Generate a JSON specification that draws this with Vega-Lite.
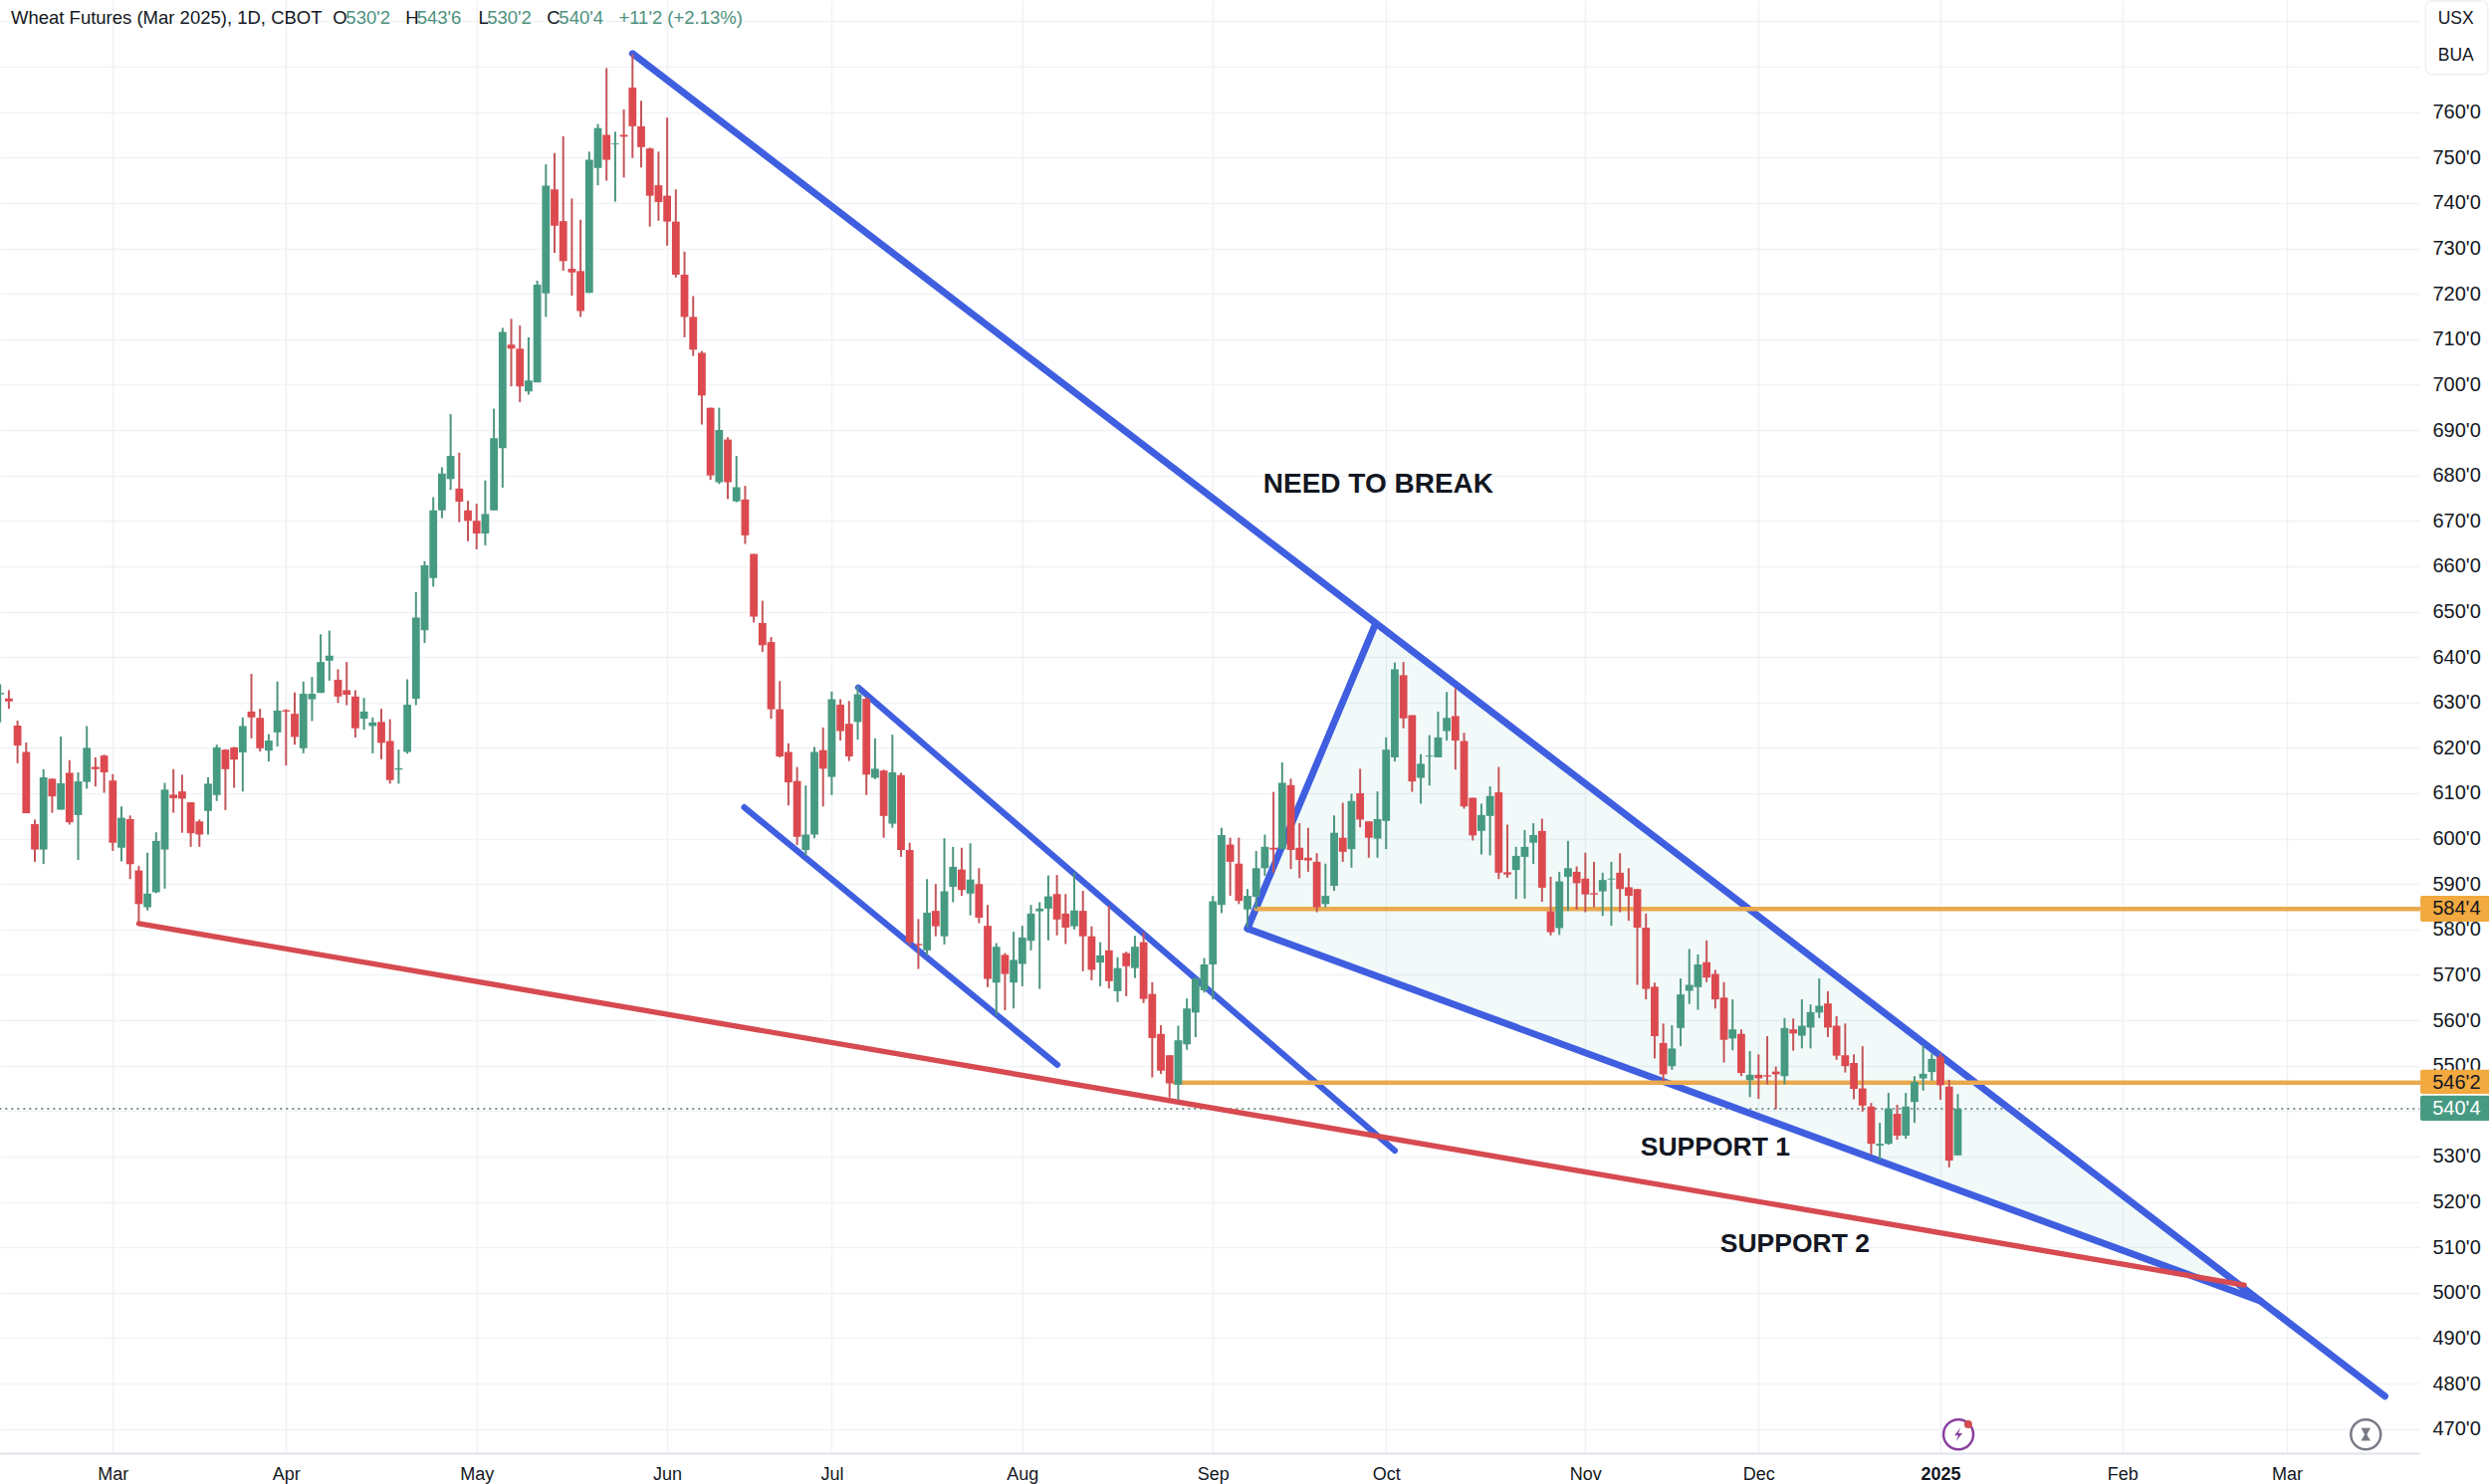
{
  "$schema": "https://vega.github.io/schema/vega-lite/v6.json",
  "width": 2430,
  "height": 1460,
  "autosize": "none",
  "padding": {"left": 0, "top": 0, "right": 70, "bottom": 31},
  "background": "white",
  "config": {"view": {"stroke": null}, "font": "Liberation Sans"},
  "resolve": {"scale": {"color": "independent"}},
  "datasets": {
    "candles": [
      {"i":0,"o":631.8,"h":634.0,"l":625.6,"c":632.1},{"i":1,"o":630.9,"h":632.7,"l":628.6,"c":630.2},{"i":2,"o":624.9,"h":626.0,"l":616.6,"c":620.5},{"i":3,"o":619.1,"h":621.2,"l":605.6,"c":605.6},{"i":4,"o":603.2,"h":604.2,"l":594.9,"c":597.6},
      {"i":5,"o":597.6,"h":615.3,"l":594.4,"c":613.5},{"i":6,"o":613.2,"h":613.2,"l":605.7,"c":609.3},{"i":7,"o":606.4,"h":622.5,"l":606.4,"c":612.2},{"i":8,"o":614.5,"h":617.3,"l":603.1,"c":603.6},{"i":9,"o":605.2,"h":614.6,"l":595.3,"c":612.6},
      {"i":10,"o":612.5,"h":624.8,"l":611.0,"c":620.0},{"i":11,"o":615.8,"h":617.9,"l":611.5,"c":615.3},{"i":12,"o":618.3,"h":618.5,"l":610.1,"c":614.6},{"i":13,"o":612.8,"h":614.2,"l":597.3,"c":599.1},{"i":14,"o":598.0,"h":607.1,"l":595.0,"c":604.6},
      {"i":15,"o":604.3,"h":605.1,"l":591.1,"c":594.4},{"i":16,"o":593.0,"h":594.0,"l":581.5,"c":585.6},{"i":17,"o":584.9,"h":596.9,"l":584.2,"c":587.9},{"i":18,"o":588.2,"h":601.4,"l":588.0,"c":599.5},{"i":19,"o":597.6,"h":612.3,"l":589.0,"c":610.8},
      {"i":20,"o":609.7,"h":615.3,"l":605.7,"c":608.9},{"i":21,"o":610.4,"h":614.1,"l":601.3,"c":608.8},{"i":22,"o":608.0,"h":608.0,"l":598.2,"c":601.2},{"i":23,"o":603.8,"h":604.2,"l":598.2,"c":600.9},{"i":24,"o":606.1,"h":613.5,"l":600.9,"c":612.1},
      {"i":25,"o":609.6,"h":620.7,"l":608.3,"c":620.1},{"i":26,"o":619.6,"h":619.7,"l":606.3,"c":615.3},{"i":27,"o":620.1,"h":620.2,"l":611.2,"c":617.4},{"i":28,"o":619.0,"h":626.7,"l":610.4,"c":624.8},{"i":29,"o":628.0,"h":636.3,"l":622.1,"c":626.7},
      {"i":30,"o":626.6,"h":628.6,"l":619.2,"c":619.9},{"i":31,"o":619.4,"h":623.0,"l":617.0,"c":621.6},{"i":32,"o":623.4,"h":634.6,"l":620.3,"c":628.2},{"i":33,"o":628.3,"h":628.5,"l":616.1,"c":628.0},{"i":34,"o":627.5,"h":632.2,"l":620.7,"c":622.4},
      {"i":35,"o":619.9,"h":634.6,"l":618.8,"c":631.9},{"i":36,"o":630.7,"h":635.6,"l":625.9,"c":631.9},{"i":37,"o":632.1,"h":645.0,"l":632.1,"c":638.9},{"i":38,"o":639.2,"h":645.8,"l":634.8,"c":640.3},{"i":39,"o":635.0,"h":637.3,"l":629.9,"c":631.3},
      {"i":40,"o":632.7,"h":638.9,"l":629.4,"c":631.7},{"i":41,"o":631.3,"h":632.7,"l":622.3,"c":624.3},{"i":42,"o":626.4,"h":631.0,"l":624.0,"c":628.0},{"i":43,"o":624.8,"h":626.7,"l":618.8,"c":625.6},{"i":44,"o":625.7,"h":628.6,"l":617.5,"c":621.1},
      {"i":45,"o":621.5,"h":626.3,"l":612.1,"c":612.9},{"i":46,"o":615.2,"h":619.6,"l":612.1,"c":615.5},{"i":47,"o":619.1,"h":635.1,"l":618.7,"c":629.5},{"i":48,"o":630.8,"h":654.3,"l":629.4,"c":648.7},{"i":49,"o":645.9,"h":661.1,"l":643.1,"c":660.2},
      {"i":50,"o":657.4,"h":675.2,"l":655.5,"c":672.3},{"i":51,"o":672.3,"h":681.8,"l":670.6,"c":680.4},{"i":52,"o":679.2,"h":693.5,"l":676.8,"c":684.3},{"i":53,"o":677.1,"h":685.0,"l":669.7,"c":674.2},{"i":54,"o":672.3,"h":674.4,"l":665.5,"c":670.0},
      {"i":55,"o":670.0,"h":673.8,"l":663.7,"c":667.2},{"i":56,"o":667.2,"h":678.9,"l":664.6,"c":671.5},{"i":57,"o":672.3,"h":694.7,"l":672.3,"c":688.2},{"i":58,"o":686.0,"h":712.5,"l":677.3,"c":711.6},{"i":59,"o":708.8,"h":714.5,"l":699.6,"c":707.9},
      {"i":60,"o":707.9,"h":713.0,"l":696.1,"c":699.6},{"i":61,"o":698.5,"h":710.4,"l":697.8,"c":700.9},{"i":62,"o":700.5,"h":722.9,"l":700.5,"c":722.0},{"i":63,"o":720.1,"h":748.5,"l":714.9,"c":743.8},{"i":64,"o":743.0,"h":751.0,"l":729.0,"c":735.0},
      {"i":65,"o":736.0,"h":754.7,"l":725.1,"c":727.2},{"i":66,"o":725.5,"h":741.0,"l":719.6,"c":724.7},{"i":67,"o":725.0,"h":736.3,"l":714.9,"c":716.2},{"i":68,"o":720.2,"h":751.3,"l":720.2,"c":749.5},{"i":69,"o":747.7,"h":757.4,"l":743.9,"c":756.5},
      {"i":70,"o":755.0,"h":769.7,"l":744.9,"c":749.5},{"i":71,"o":752.9,"h":755.7,"l":740.3,"c":753.1},{"i":72,"o":755.0,"h":760.6,"l":745.6,"c":754.6},{"i":73,"o":765.4,"h":772.8,"l":749.9,"c":756.9},{"i":74,"o":756.9,"h":762.5,"l":747.8,"c":752.3},
      {"i":75,"o":752.0,"h":752.2,"l":734.8,"c":741.6},{"i":76,"o":743.9,"h":751.3,"l":736.1,"c":740.2},{"i":77,"o":741.6,"h":758.8,"l":730.6,"c":735.9},{"i":78,"o":735.9,"h":743.0,"l":723.6,"c":724.2},{"i":79,"o":724.2,"h":729.3,"l":710.4,"c":714.9},
      {"i":80,"o":714.9,"h":719.5,"l":706.3,"c":707.7},{"i":81,"o":707.0,"h":707.4,"l":691.2,"c":697.6},{"i":82,"o":694.9,"h":694.9,"l":679.0,"c":680.0},{"i":83,"o":678.5,"h":694.9,"l":678.1,"c":690.0},{"i":84,"o":687.9,"h":688.4,"l":674.8,"c":678.5},
      {"i":85,"o":674.3,"h":684.3,"l":674.1,"c":677.4},{"i":86,"o":674.7,"h":677.7,"l":664.9,"c":666.8},{"i":87,"o":662.7,"h":662.7,"l":647.6,"c":648.9},{"i":88,"o":647.5,"h":652.4,"l":641.1,"c":642.6},{"i":89,"o":643.3,"h":644.4,"l":626.4,"c":628.5},
      {"i":90,"o":628.5,"h":634.7,"l":617.9,"c":618.1},{"i":91,"o":619.1,"h":621.0,"l":607.3,"c":612.4},{"i":92,"o":612.7,"h":615.8,"l":598.6,"c":600.4},{"i":93,"o":597.5,"h":611.7,"l":596.2,"c":600.9},{"i":94,"o":600.9,"h":620.2,"l":600.1,"c":619.1},
      {"i":95,"o":619.5,"h":624.5,"l":607.1,"c":615.4},{"i":96,"o":613.6,"h":632.4,"l":609.6,"c":630.7},{"i":97,"o":629.5,"h":630.7,"l":621.6,"c":623.7},{"i":98,"o":625.3,"h":630.3,"l":617.1,"c":618.1},{"i":99,"o":625.7,"h":633.6,"l":621.8,"c":631.8},
      {"i":100,"o":630.8,"h":631.3,"l":609.6,"c":614.1},{"i":101,"o":613.4,"h":622.1,"l":613.1,"c":615.4},{"i":102,"o":615.0,"h":615.2,"l":600.2,"c":605.0},{"i":103,"o":603.3,"h":622.9,"l":602.4,"c":614.6},{"i":104,"o":614.0,"h":614.5,"l":596.0,"c":597.5},
      {"i":105,"o":597.5,"h":599.1,"l":576.5,"c":577.2},{"i":106,"o":576.8,"h":582.3,"l":571.3,"c":576.5},{"i":107,"o":575.4,"h":591.1,"l":574.3,"c":583.7},{"i":108,"o":584.1,"h":590.0,"l":578.5,"c":580.7},{"i":109,"o":578.5,"h":600.1,"l":576.7,"c":588.4},
      {"i":110,"o":589.4,"h":598.2,"l":586.0,"c":593.8},{"i":111,"o":593.2,"h":598.0,"l":587.4,"c":588.7},{"i":112,"o":587.9,"h":599.0,"l":583.1,"c":591.0},{"i":113,"o":590.0,"h":593.5,"l":581.4,"c":582.6},{"i":114,"o":580.8,"h":585.4,"l":567.3,"c":569.1},
      {"i":115,"o":568.3,"h":577.0,"l":561.1,"c":576.2},{"i":116,"o":574.4,"h":574.8,"l":562.2,"c":570.2},{"i":117,"o":568.3,"h":579.5,"l":562.6,"c":573.3},{"i":118,"o":572.4,"h":580.8,"l":567.5,"c":578.2},{"i":119,"o":577.5,"h":585.4,"l":575.4,"c":583.5},
      {"i":120,"o":584.0,"h":586.0,"l":566.9,"c":584.6},{"i":121,"o":584.6,"h":591.9,"l":577.6,"c":587.3},{"i":122,"o":587.8,"h":592.0,"l":578.7,"c":582.2},{"i":123,"o":583.5,"h":587.8,"l":576.8,"c":580.4},{"i":124,"o":580.7,"h":592.5,"l":580.0,"c":584.2},
      {"i":125,"o":584.1,"h":588.5,"l":570.8,"c":578.5},{"i":126,"o":578.5,"h":580.7,"l":568.8,"c":571.1},{"i":127,"o":572.7,"h":577.2,"l":567.5,"c":574.3},{"i":128,"o":575.4,"h":585.2,"l":567.0,"c":568.6},{"i":129,"o":566.4,"h":573.9,"l":564.0,"c":571.5},
      {"i":130,"o":574.8,"h":575.1,"l":565.3,"c":571.9},{"i":131,"o":571.5,"h":578.6,"l":569.3,"c":576.2},{"i":132,"o":577.2,"h":579.4,"l":563.8,"c":564.7},{"i":133,"o":565.8,"h":568.4,"l":547.4,"c":556.1},{"i":134,"o":557.0,"h":558.9,"l":548.2,"c":548.9},
      {"i":135,"o":552.3,"h":552.3,"l":543.0,"c":546.1},{"i":136,"o":545.8,"h":558.8,"l":542.5,"c":555.6},{"i":137,"o":554.7,"h":564.8,"l":553.5,"c":562.6},{"i":138,"o":561.7,"h":569.5,"l":556.3,"c":569.2},{"i":139,"o":566.6,"h":573.7,"l":566.1,"c":572.3},
      {"i":140,"o":572.3,"h":587.4,"l":564.6,"c":586.2},{"i":141,"o":585.4,"h":602.4,"l":583.6,"c":600.8},{"i":142,"o":598.7,"h":600.2,"l":587.4,"c":594.9},{"i":143,"o":594.5,"h":600.2,"l":585.6,"c":586.3},{"i":144,"o":584.4,"h":588.9,"l":580.5,"c":587.4},
      {"i":145,"o":587.2,"h":597.3,"l":584.5,"c":593.5},{"i":146,"o":593.5,"h":600.9,"l":591.8,"c":598.2},{"i":147,"o":598.0,"h":610.3,"l":592.5,"c":597.6},{"i":148,"o":597.7,"h":616.8,"l":597.7,"c":612.3},{"i":149,"o":611.8,"h":613.2,"l":593.3,"c":597.5},
      {"i":150,"o":598.0,"h":603.4,"l":591.3,"c":595.3},{"i":151,"o":595.8,"h":602.4,"l":592.7,"c":595.2},{"i":152,"o":594.9,"h":596.8,"l":583.8,"c":584.9},{"i":153,"o":585.6,"h":594.5,"l":584.9,"c":587.4},{"i":154,"o":589.6,"h":605.1,"l":588.5,"c":601.3},
      {"i":155,"o":600.2,"h":607.9,"l":594.9,"c":597.1},{"i":156,"o":597.7,"h":609.9,"l":593.6,"c":608.3},{"i":157,"o":610.0,"h":615.4,"l":602.5,"c":604.2},{"i":158,"o":603.8,"h":603.8,"l":595.8,"c":600.2},{"i":159,"o":600.0,"h":610.4,"l":595.8,"c":604.3},
      {"i":160,"o":603.9,"h":622.3,"l":597.7,"c":619.6},{"i":161,"o":617.9,"h":638.8,"l":617.0,"c":637.3},{"i":162,"o":636.0,"h":638.9,"l":624.3,"c":626.5},{"i":163,"o":627.2,"h":627.2,"l":610.3,"c":612.6},{"i":164,"o":613.4,"h":618.6,"l":607.7,"c":616.5},
      {"i":165,"o":618.1,"h":622.8,"l":611.7,"c":618.3},{"i":166,"o":617.9,"h":628.0,"l":617.9,"c":622.3},{"i":167,"o":623.7,"h":632.3,"l":621.6,"c":626.6},{"i":168,"o":627.0,"h":633.1,"l":615.2,"c":621.6},{"i":169,"o":621.5,"h":623.3,"l":606.6,"c":607.1},
      {"i":170,"o":609.0,"h":609.0,"l":599.6,"c":600.7},{"i":171,"o":601.7,"h":607.7,"l":596.5,"c":605.2},{"i":172,"o":605.0,"h":611.5,"l":596.3,"c":609.4},{"i":173,"o":610.2,"h":615.8,"l":591.1,"c":592.5},{"i":174,"o":592.6,"h":603.1,"l":591.4,"c":592.1},
      {"i":175,"o":593.1,"h":598.2,"l":586.7,"c":596.2},{"i":176,"o":596.0,"h":601.9,"l":586.8,"c":598.2},{"i":177,"o":599.1,"h":603.4,"l":594.4,"c":600.8},{"i":178,"o":601.7,"h":604.4,"l":586.1,"c":589.2},{"i":179,"o":584.0,"h":591.6,"l":578.7,"c":579.4},
      {"i":180,"o":580.3,"h":592.7,"l":578.8,"c":590.6},{"i":181,"o":591.6,"h":599.5,"l":584.1,"c":593.5},{"i":182,"o":592.7,"h":593.9,"l":584.4,"c":590.2},{"i":183,"o":591.2,"h":596.9,"l":583.8,"c":587.7},{"i":184,"o":588.0,"h":594.9,"l":584.9,"c":587.7},
      {"i":185,"o":588.4,"h":592.5,"l":583.0,"c":590.9},{"i":186,"o":591.0,"h":594.9,"l":580.8,"c":591.2},{"i":187,"o":592.5,"h":596.8,"l":583.8,"c":588.9},{"i":188,"o":589.3,"h":593.5,"l":581.9,"c":587.4},{"i":189,"o":588.9,"h":588.9,"l":567.8,"c":580.4},
      {"i":190,"o":580.4,"h":583.5,"l":564.6,"c":566.9},{"i":191,"o":567.4,"h":568.3,"l":551.6,"c":556.5},{"i":192,"o":555.0,"h":559.3,"l":546.6,"c":548.1},{"i":193,"o":549.9,"h":558.9,"l":549.1,"c":553.8},{"i":194,"o":558.3,"h":569.2,"l":554.3,"c":565.7},
      {"i":195,"o":566.5,"h":575.7,"l":563.6,"c":567.8},{"i":196,"o":567.3,"h":574.5,"l":562.3,"c":572.3},{"i":197,"o":572.8,"h":577.6,"l":568.4,"c":569.4},{"i":198,"o":570.2,"h":571.1,"l":562.6,"c":564.6},{"i":199,"o":565.0,"h":568.4,"l":550.7,"c":555.7},
      {"i":200,"o":556.0,"h":564.6,"l":553.4,"c":558.0},{"i":201,"o":557.0,"h":558.0,"l":547.7,"c":548.4},{"i":202,"o":546.8,"h":553.2,"l":543.1,"c":548.0},{"i":203,"o":548.0,"h":552.5,"l":542.7,"c":547.2},{"i":204,"o":547.9,"h":556.5,"l":545.9,"c":547.6},
      {"i":205,"o":548.7,"h":549.8,"l":540.4,"c":548.1},{"i":206,"o":547.7,"h":560.5,"l":545.9,"c":558.3},{"i":207,"o":558.0,"h":560.4,"l":553.3,"c":557.1},{"i":208,"o":556.6,"h":564.6,"l":553.8,"c":558.8},{"i":209,"o":558.4,"h":563.5,"l":553.8,"c":561.8},
      {"i":210,"o":561.7,"h":569.2,"l":560.5,"c":563.2},{"i":211,"o":563.7,"h":566.4,"l":556.3,"c":558.4},{"i":212,"o":558.8,"h":560.9,"l":551.3,"c":552.2},{"i":213,"o":552.3,"h":559.3,"l":548.5,"c":549.9},{"i":214,"o":550.6,"h":552.5,"l":542.6,"c":544.9},
      {"i":215,"o":545.0,"h":554.3,"l":539.9,"c":541.2},{"i":216,"o":541.0,"h":541.8,"l":530.4,"c":532.8},{"i":217,"o":532.4,"h":537.4,"l":529.3,"c":532.8},{"i":218,"o":532.8,"h":544.0,"l":532.6,"c":540.6},{"i":219,"o":539.4,"h":541.4,"l":533.7,"c":534.6},
      {"i":220,"o":534.6,"h":544.0,"l":533.9,"c":541.0},{"i":221,"o":542.0,"h":547.7,"l":537.4,"c":546.4},{"i":222,"o":547.2,"h":554.5,"l":544.5,"c":548.2},{"i":223,"o":548.6,"h":552.7,"l":546.7,"c":551.5},{"i":224,"o":552.0,"h":552.7,"l":542.5,"c":545.7},
      {"i":225,"o":545.4,"h":546.9,"l":527.6,"c":529.1},{"i":226,"o":530.25,"h":543.75,"l":530.25,"c":540.5}
    ],
    "lines": [
      {"line":"top","kind":"blue","i":73,"p":772.9},{"line":"top","kind":"blue","i":275.3,"p":477.2},
      {"line":"wedge left","kind":"blue","i":158.8,"p":647.4},{"line":"wedge left","kind":"blue","i":144,"p":580.2},
      {"line":"wedge bottom","kind":"blue","i":144,"p":580.2},{"line":"wedge bottom","kind":"blue","i":260.9,"p":498.2},
      {"line":"channel top","kind":"channel","i":99.05,"p":633.3},{"line":"channel top","kind":"channel","i":161,"p":531.3},
      {"line":"channel bottom","kind":"channel","i":85.9,"p":606.9},{"line":"channel bottom","kind":"channel","i":122.05,"p":550.2},
      {"line":"support","kind":"red","i":16,"p":581.3},{"line":"support","kind":"red","i":259.06,"p":501.7},
      {"line":"level 584","kind":"orange","i":145,"p":584.5},{"line":"level 584","kind":"orange","i":279.3,"p":584.5},
      {"line":"level 546","kind":"orange","i":135.6,"p":546.25},{"line":"level 546","kind":"orange","i":279.3,"p":546.25}
    ]
  },
  "encoding": {
    "x": {
      "field": "i",
      "type": "quantitative",
      "scale": {"domain": [-0.023, 279.28], "nice": false, "zero": false, "padding": 0},
      "axis": {
        "title": null,
        "orient": "bottom",
        "values": [13, 33, 55, 77, 96, 118, 140, 160, 183, 203, 224, 245, 264],
        "labelExpr": "['Mar','Apr','May','Jun','Jul','Aug','Sep','Oct','Nov','Dec','2025','Feb','Mar'][indexof([13,33,55,77,96,118,140,160,183,203,224,245,264],datum.value)]",
        "labelFontWeight": {"condition": {"test": "datum.value == 224", "value": "bold"}, "value": "normal"},
        "labelFont": "Liberation Sans",
        "labelFontSize": 18,
        "labelColor": "#131722",
        "labelPadding": 12,
        "labelOverlap": false,
        "labelBound": false,
        "labelFlush": false,
        "ticks": false,
        "grid": true,
        "gridColor": "#f0f2f6",
        "gridWidth": 1.5,
        "domainColor": "#e0e3eb",
        "domainWidth": 2
      }
    },
    "y": {
      "field": "p",
      "type": "quantitative",
      "scale": {"domain": [464.67, 784.7], "nice": false, "zero": false},
      "axis": {
        "title": null,
        "orient": "right",
        "values": [470,480,490,500,510,520,530,540,550,560,570,580,590,600,610,620,630,640,650,660,670,680,690,700,710,720,730,740,750,760,770,780],
        "labelExpr": "datum.value <= 760 && datum.value != 540 ? datum.value + \"'0\" : ''",
        "labelFont": "Liberation Sans",
        "labelFontSize": 20,
        "labelColor": "#131722",
        "labelPadding": 13,
        "labelOverlap": false,
        "labelBound": false,
        "ticks": false,
        "domain": false,
        "grid": true,
        "gridColor": "#f0f2f6",
        "gridWidth": 1.5
      }
    }
  },
  "layer": [
    {
      "data": {"values": [
        {"i": 144, "p": 580.2, "bottom": 580.2},
        {"i": 158.8, "p": 647.4, "bottom": 569.8},
        {"i": 260.9, "p": 498.2, "bottom": 498.2}
      ]},
      "mark": {"type": "area", "color": "#26a69a", "opacity": 0.06},
      "encoding": {"y2": {"field": "bottom"}}
    },
    {
      "data": {"values": [{"i": -0.1, "p": 540.5}, {"i": 279.3, "p": 540.5}]},
      "mark": {"type": "line", "color": "#4f6f68", "strokeWidth": 1.5, "strokeDash": [2, 4]},
      "encoding": {}
    },
    {
      "data": {"name": "lines"},
      "mark": {"type": "line", "strokeCap": "round"},
      "encoding": {
        "detail": {"field": "line"},
        "color": {
          "field": "kind",
          "scale": {"domain": ["blue", "channel", "red", "orange"], "range": ["#3f5fe0", "#3f5fe0", "#d64a50", "#e9a94f"]},
          "legend": null
        },
        "strokeWidth": {
          "field": "kind",
          "scale": {"domain": ["blue", "channel", "red", "orange"], "range": [7, 4.5, 7, 4.5]},
          "legend": null
        }
      }
    },
    {
      "data": {"name": "candles"},
      "mark": {"type": "rule", "strokeWidth": 2},
      "encoding": {
        "y": {"field": "l", "type": "quantitative", "title": null},
        "y2": {"field": "h"},
        "color": {"condition": {"test": "datum.c >= datum.o", "value": "#4d957f"}, "value": "#c4555a"}
      }
    },
    {
      "data": {"name": "candles"},
      "mark": {"type": "bar", "size": 7.8},
      "encoding": {
        "y": {"field": "o", "type": "quantitative", "title": null},
        "y2": {"field": "c"},
        "color": {"condition": {"test": "datum.c >= datum.o", "value": "#479a82"}, "value": "#dc4a50"}
      }
    },
    {
      "data": {"values": [
        {"i": 279.4, "i2": 287.5, "p": 587.4, "p2": 581.7, "tag": "level"},
        {"i": 279.4, "i2": 287.5, "p": 549.1, "p2": 543.8, "tag": "level"},
        {"i": 279.4, "i2": 287.5, "p": 543.4, "p2": 537.9, "tag": "last"}
      ]},
      "mark": {"type": "rect", "cornerRadius": 2},
      "encoding": {
        "x2": {"field": "i2"},
        "y2": {"field": "p2"},
        "color": {"field": "tag", "scale": {"domain": ["level", "last"], "range": ["#f2a93f", "#479a82"]}, "legend": null}
      }
    },
    {
      "data": {"values": [
        {"i": 280.8, "p": 584.5, "label": "584'4", "tag": "level"},
        {"i": 280.8, "p": 546.25, "label": "546'2", "tag": "level"},
        {"i": 280.8, "p": 540.5, "label": "540'4", "tag": "last"}
      ]},
      "mark": {"type": "text", "align": "left", "baseline": "middle", "fontSize": 20, "font": "Liberation Sans"},
      "encoding": {
        "text": {"field": "label"},
        "color": {"field": "tag", "scale": {"domain": ["level", "last"], "range": ["#131722", "#ffffff"]}, "legend": null}
      }
    },
    {
      "data": {"values": [{"i": 280, "i2": 287.2, "p": 784.5, "p2": 768.3}]},
      "mark": {"type": "rect", "cornerRadius": 6, "fill": "white", "stroke": "#eef0f4", "strokeWidth": 1.5},
      "encoding": {"x2": {"field": "i2"}, "y2": {"field": "p2"}}
    },
    {
      "data": {"values": [
        {"i": 283.5, "p": 780.5, "label": "USX"},
        {"i": 283.5, "p": 772.4, "label": "BUA"}
      ]},
      "mark": {"type": "text", "align": "center", "baseline": "middle", "fontSize": 17.5, "color": "#131722", "font": "Liberation Sans"},
      "encoding": {"text": {"field": "label"}}
    },
    {
      "data": {"values": [
        {"i": 1.24, "p": 780.8, "label": "Wheat Futures (Mar 2025), 1D, CBOT", "part": "name"},
        {"i": 38.4, "p": 780.8, "label": "O", "part": "name"},
        {"i": 39.9, "p": 780.8, "label": "530'2", "part": "value"},
        {"i": 46.8, "p": 780.8, "label": "H", "part": "name"},
        {"i": 48.1, "p": 780.8, "label": "543'6", "part": "value"},
        {"i": 55.2, "p": 780.8, "label": "L", "part": "name"},
        {"i": 56.2, "p": 780.8, "label": "530'2", "part": "value"},
        {"i": 63.1, "p": 780.8, "label": "C", "part": "name"},
        {"i": 64.5, "p": 780.8, "label": "540'4", "part": "value"},
        {"i": 71.4, "p": 780.8, "label": "+11'2 (+2.13%)", "part": "value"}
      ]},
      "mark": {"type": "text", "align": "left", "baseline": "middle", "fontSize": 18.5, "font": "Liberation Sans"},
      "encoding": {
        "text": {"field": "label"},
        "color": {"field": "part", "scale": {"domain": ["name", "value"], "range": ["#131722", "#4d917d"]}, "legend": null}
      }
    },
    {
      "data": {"values": [{"i": 159.1, "p": 678, "label": "NEED TO BREAK"}]},
      "mark": {"type": "text", "align": "center", "baseline": "middle", "fontSize": 28, "fontWeight": "bold", "color": "#131722", "font": "Liberation Sans"},
      "encoding": {"text": {"field": "label"}}
    },
    {
      "data": {"values": [
        {"i": 198, "p": 532, "label": "SUPPORT 1"},
        {"i": 207.2, "p": 510.7, "label": "SUPPORT 2"}
      ]},
      "mark": {"type": "text", "align": "center", "baseline": "middle", "fontSize": 26.5, "fontWeight": "bold", "color": "#131722", "font": "Liberation Sans"},
      "encoding": {"text": {"field": "label"}}
    },
    {
      "data": {"values": [{"i": 226.07, "p": 468.8}]},
      "mark": {"type": "point", "shape": "circle", "size": 900, "fill": "white", "stroke": "#8a3fa0", "strokeWidth": 2.5, "filled": false, "opacity": 1},
      "encoding": {}
    },
    {
      "data": {"values": [{"i": 226.07, "p": 468.8}]},
      "mark": {"type": "point", "shape": "M0.2,-0.6 L-0.35,0.1 L0,0.1 L-0.2,0.6 L0.35,-0.1 L0,-0.1 Z", "size": 520, "fill": "#8a3fa0", "stroke": null, "filled": true, "opacity": 1},
      "encoding": {}
    },
    {
      "data": {"values": [{"i": 227.2, "p": 471}]},
      "mark": {"type": "point", "shape": "circle", "size": 64, "fill": "#d64a50", "stroke": null, "filled": true, "opacity": 1},
      "encoding": {}
    },
    {
      "data": {"values": [{"i": 273.1, "p": 468.8}]},
      "mark": {"type": "point", "shape": "circle", "size": 900, "fill": "white", "stroke": "#787b86", "strokeWidth": 2.5, "filled": false, "opacity": 1},
      "encoding": {}
    },
    {
      "data": {"values": [{"i": 273.1, "p": 468.8}]},
      "mark": {"type": "point", "shape": "M-0.4,-0.55 L0.4,-0.55 L0.1,0 L0.4,0.55 L-0.4,0.55 L-0.1,0 Z", "size": 550, "fill": "#787b86", "stroke": null, "filled": true, "opacity": 1},
      "encoding": {}
    }
  ]
}
